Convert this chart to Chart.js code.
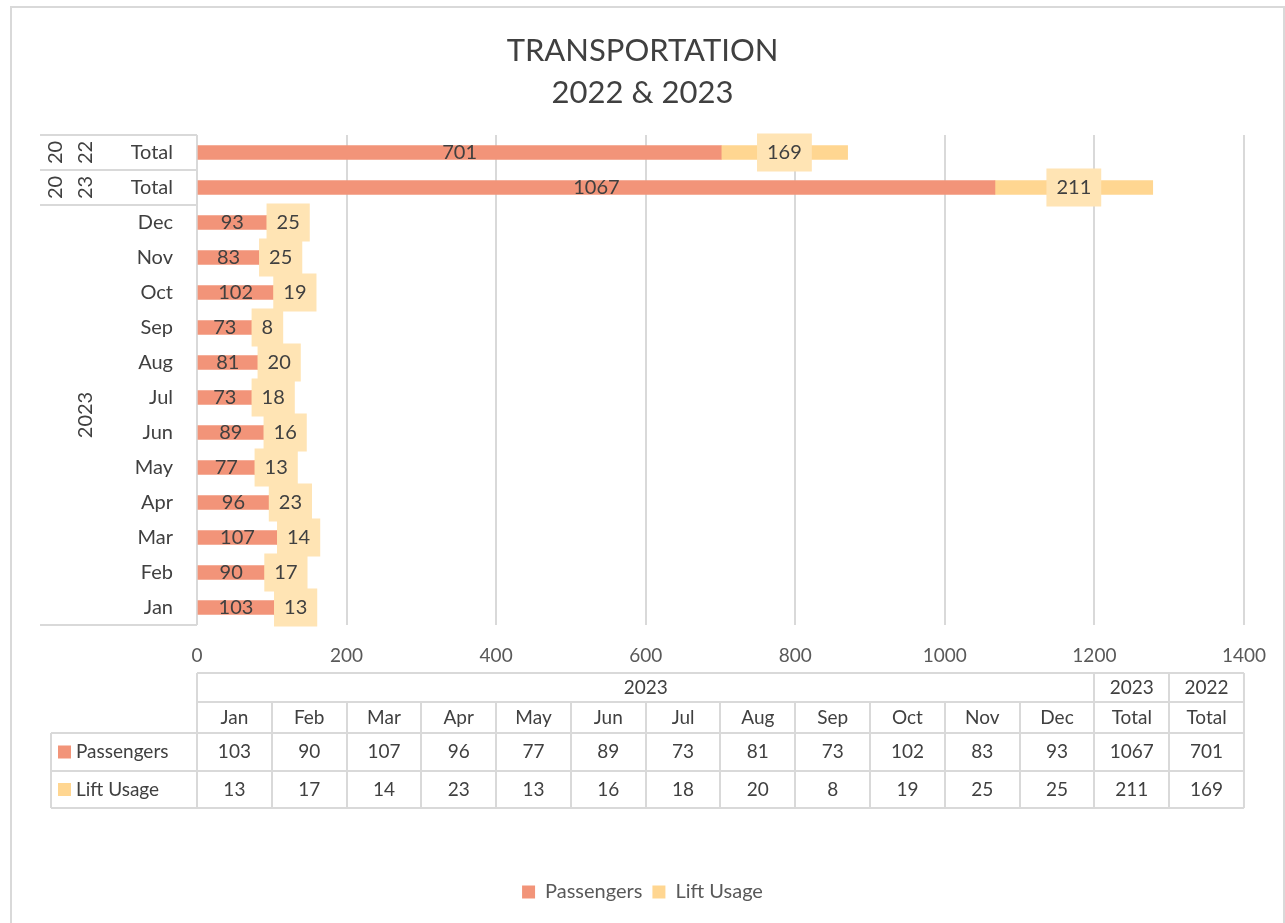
<!DOCTYPE html>
<html>
<head>
<meta charset="utf-8">
<script src="https://cdn.jsdelivr.net/npm/chart.js@4"></script>
<style>
  body { margin: 0; background: #fff; }
</style>
</head>
<body>
<canvas id="graficoTransporte" width="1285" height="923"></canvas>
<script>
// categories, bottom to top of the bar chart (same order as the table)
const categorias = ["Jan", "Feb", "Mar", "Apr", "May", "Jun", "Jul", "Aug", "Sep", "Oct", "Nov", "Dec", "Total", "Total"];
const pasajeros = [103, 90, 107, 96, 77, 89, 73, 81, 73, 102, 83, 93, 1067, 701];
const ascensor = [13, 17, 14, 23, 13, 16, 18, 20, 8, 19, 25, 25, 211, 169];
const series = ["Passengers", "Lift Usage"];
const tituloLineas = ["TRANSPORTATION", "2022 & 2023"];
// group headers shown on the left axis and in the table
const gruposAnio = ["2023", "2023", "2022"];

const colorPas = "#F29479";
const colorLift = "#FFD691";
const colorCaja = "#FFE4B4";
const colorGris = "#d9d9d9";
const colorTexto = "#404040";
const fuente = "Lato, 'Open Sans', sans-serif";

const bordeGrafico = {
    id: "bordeGrafico",
    beforeDraw(chart) {
        const ctx = chart.ctx;
        ctx.save();
        ctx.strokeStyle = colorGris;
        ctx.lineWidth = 2;
        ctx.strokeRect(11, 7, 1273, 940);
        ctx.restore();
    },
};

function linea(ctx, x1, y1, x2, y2) {
    ctx.beginPath();
    ctx.moveTo(x1, y1);
    ctx.lineTo(x2, y2);
    ctx.stroke();
}

const ejeIzquierdo = {
    id: "ejeIzquierdo",
    afterDraw(chart) {
        const ctx = chart.ctx;
        const y = chart.scales.y;
        const area = chart.chartArea;
        const paso = Math.abs(y.getPixelForValue(0) - y.getPixelForValue(1));
        ctx.save();
        ctx.font = "20px " + fuente;
        ctx.fillStyle = colorTexto;
        ctx.textBaseline = "middle";
        ctx.textAlign = "right";
        categorias.forEach((c, i) => ctx.fillText(c, 173, y.getPixelForValue(i)));

        // separators
        ctx.strokeStyle = colorGris;
        ctx.lineWidth = 2;
        const yTop = y.getPixelForValue(13) - paso / 2;
        const yMid = y.getPixelForValue(13) + paso / 2;
        const yMes = y.getPixelForValue(11) - paso / 2;
        const yBot = y.getPixelForValue(0) + paso / 2;
        [yTop, yMid, yMes, yBot].forEach(v => linea(ctx, 40, Math.round(v), area.left, Math.round(v)));

        // rotated group labels
        ctx.textAlign = "center";
        const rot = (txt, x, yy) => {
            ctx.save();
            ctx.translate(x, yy);
            ctx.rotate(-Math.PI / 2);
            ctx.fillText(txt, 0, 0);
            ctx.restore();
        };
        rot(gruposAnio[2].slice(0, 2), 56, y.getPixelForValue(13));
        rot(gruposAnio[2].slice(2), 86, y.getPixelForValue(13));
        rot(gruposAnio[1].slice(0, 2), 56, y.getPixelForValue(12));
        rot(gruposAnio[1].slice(2), 86, y.getPixelForValue(12));
        rot(gruposAnio[0], 86, (y.getPixelForValue(0) + y.getPixelForValue(11)) / 2);
        ctx.restore();
    },
};

const etiquetas = {
    id: "etiquetas",
    afterDatasetsDraw(chart) {
        const ctx = chart.ctx;
        const m0 = chart.getDatasetMeta(0);
        const m1 = chart.getDatasetMeta(1);
        ctx.save();
        ctx.font = "20px " + fuente;
        ctx.textBaseline = "middle";
        ctx.textAlign = "center";
        m0.data.forEach((bar, i) => {
            ctx.fillStyle = colorTexto;
            ctx.fillText(String(pasajeros[i]), (bar.x + bar.base) / 2, bar.y);
        });
        m1.data.forEach((bar, i) => {
            const txt = String(ascensor[i]);
            const w = ctx.measureText(txt).width + 20;
            const h = 38;
            let izq = (bar.x + bar.base) / 2 - w / 2;
            if (izq < bar.base) izq = bar.base;
            ctx.fillStyle = colorCaja;
            ctx.fillRect(izq, bar.y - h / 2, w, h);
            ctx.fillStyle = colorTexto;
            ctx.fillText(txt, izq + w / 2, bar.y);
        });
        ctx.restore();
    },
};

const tablaDatos = {
    id: "tablaDatos",
    afterDraw(chart) {
        const ctx = chart.ctx;
        const area = chart.chartArea;
        const xl = area.left, xr = area.right;
        const colW = (xr - xl) / categorias.length;
        const b = area.bottom;
        const filas = [b + 48, b + 77, b + 108, b + 146, b + 183];
        const izqLeyenda = 51;
        ctx.save();
        ctx.strokeStyle = colorGris;
        ctx.lineWidth = 2;
        linea(ctx, xl, filas[0], xr, filas[0]);
        linea(ctx, xl, filas[1], xr, filas[1]);
        linea(ctx, izqLeyenda, filas[2], xr, filas[2]);
        linea(ctx, izqLeyenda, filas[3], xr, filas[3]);
        linea(ctx, izqLeyenda, filas[4], xr, filas[4]);
        linea(ctx, izqLeyenda, filas[2], izqLeyenda, filas[4]);
        linea(ctx, xl, filas[0], xl, filas[4]);
        linea(ctx, xr, filas[0], xr, filas[4]);
        for (let k = 1; k < categorias.length; k++) {
            const x = Math.round(xl + k * colW);
            linea(ctx, x, k >= 12 ? filas[0] : filas[1], x, filas[4]);
        }

        ctx.font = "19px " + fuente;
        ctx.fillStyle = colorTexto;
        ctx.textBaseline = "middle";
        ctx.textAlign = "center";
        const cy = r => (filas[r] + filas[r + 1]) / 2;
        ctx.fillText(gruposAnio[0], xl + 6 * colW, cy(0));
        ctx.fillText(gruposAnio[1], xl + 12.5 * colW, cy(0));
        ctx.fillText(gruposAnio[2], xl + 13.5 * colW, cy(0));
        categorias.forEach((c, i) => {
            const x = xl + (i + 0.5) * colW;
            ctx.fillText(c, x, cy(1));
            ctx.fillText(String(pasajeros[i]), x, cy(2));
            ctx.fillText(String(ascensor[i]), x, cy(3));
        });

        ctx.textAlign = "left";
        [colorPas, colorLift].forEach((col, r) => {
            ctx.fillStyle = col;
            ctx.fillRect(58, cy(2 + r) - 6.5, 13, 13);
            ctx.fillStyle = colorTexto;
            ctx.fillText(series[r], 76, cy(2 + r));
        });
        ctx.restore();
    },
};

const dataGrafico = {
    labels: categorias,
    datasets: [
        {
            label: series[0],
            data: pasajeros,
            backgroundColor: colorPas,
            barThickness: 14,
        },
        {
            label: series[1],
            data: ascensor,
            backgroundColor: colorLift,
            barThickness: 14,
        },
    ],
};

const configGrafico = {
    type: "bar",
    data: dataGrafico,
    options: {
        indexAxis: "y",
        responsive: false,
        devicePixelRatio: 1,
        animation: false,
        layout: {
            padding: { top: 30, left: 40, right: 40, bottom: 11 },
        },
        plugins: {
            title: {
                display: true,
                text: tituloLineas,
                color: colorTexto,
                font: { family: fuente, size: 31, weight: "normal", lineHeight: 42 / 31 },
                padding: { top: 0, bottom: 21 },
            },
            legend: {
                position: "bottom",
                labels: {
                    color: "#595959",
                    boxWidth: 13,
                    boxHeight: 13,
                    padding: 10,
                    font: { family: fuente, size: 20 },
                },
            },
            tooltip: { enabled: false },
        },
        scales: {
            x: {
                stacked: true,
                min: 0,
                max: 1400,
                ticks: {
                    stepSize: 200,
                    color: "#595959",
                    padding: 19,
                    maxRotation: 0,
                    font: { family: fuente, size: 19 },
                    callback: v => String(v),
                },
                grid: { color: colorGris, lineWidth: 2, drawTicks: false },
                border: { display: false },
                afterFit: s => { s.height = 247; },
            },
            y: {
                stacked: true,
                reverse: true,
                ticks: { display: false },
                grid: { display: false },
                border: { display: false },
                afterFit: s => { s.width = 157; },
            },
        },
    },
    plugins: [bordeGrafico, etiquetas, ejeIzquierdo, tablaDatos],
};

const grafico = new Chart(document.getElementById("graficoTransporte"), configGrafico);
</script>
</body>
</html>
